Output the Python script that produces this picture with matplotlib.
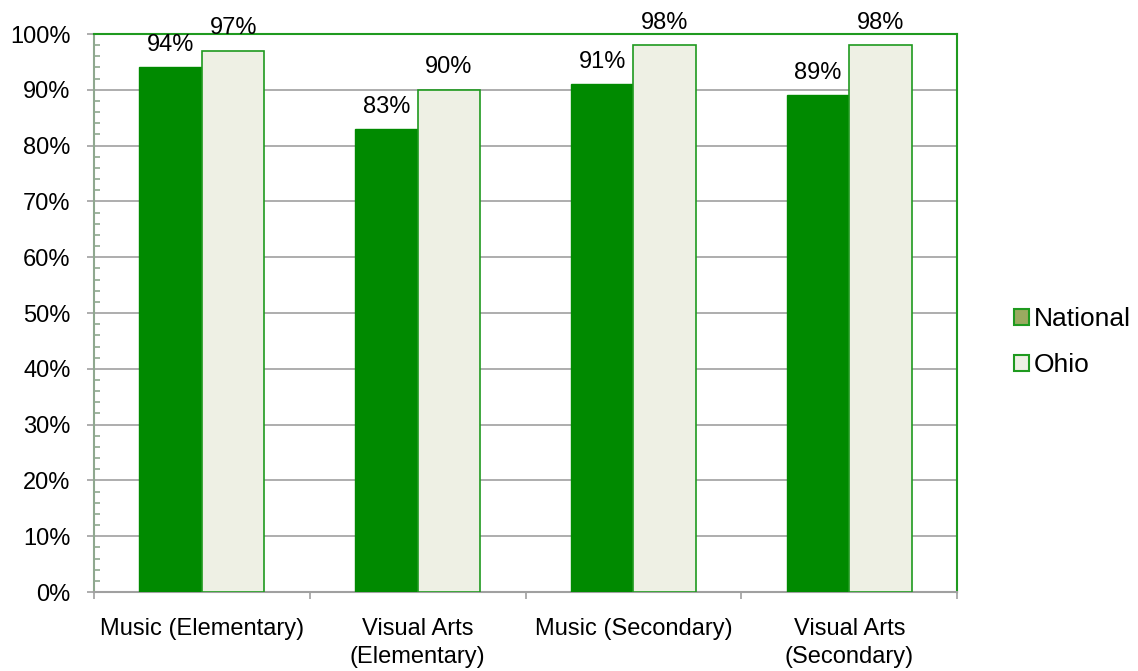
import numpy as np
import matplotlib.pyplot as plt
from matplotlib.patches import Patch
from matplotlib.ticker import MultipleLocator, PercentFormatter

plt.rcParams['font.family'] = ['Liberation Sans', 'DejaVu Sans']

categories = ["Music (Elementary)", "Visual Arts\n(Elementary)",
              "Music (Secondary)", "Visual Arts\n(Secondary)"]
national = [94, 83, 91, 89]
ohio = [97, 90, 98, 98]

dark_green = "#008a00"
edge_green = "#1f9a1f"
ohio_fill = "#eef0e4"
grid_grey = "#a0a0a0"
axis_grey = "#8fa88f"

fig = plt.figure(figsize=(11.38, 6.71), dpi=100)
ax = fig.add_axes([0.0826, 0.1177, 0.7585, 0.8316])

x = np.arange(len(categories))
w = 0.29
ax.bar(x - w / 2, national, w, color=dark_green, edgecolor=dark_green, linewidth=1, zorder=3)
ax.bar(x + w / 2, ohio, w, color=ohio_fill, edgecolor=edge_green, linewidth=1.2, zorder=3)

for i in range(len(categories)):
    ax.text(x[i] - w / 2, national[i] + 4.0, f"{national[i]}%", ha="center", va="center", fontsize=17)
    ax.text(x[i] + w / 2, ohio[i] + 4.0, f"{ohio[i]}%", ha="center", va="center", fontsize=17)

ax.set_xlim(-0.5, len(categories) - 0.5)
ax.set_ylim(0, 100)
ax.yaxis.set_major_locator(MultipleLocator(10))
ax.yaxis.set_minor_locator(MultipleLocator(2))
ax.yaxis.set_major_formatter(PercentFormatter(decimals=0))
ax.grid(axis="y", color=grid_grey, linewidth=1.2, zorder=0)

ax.set_xticks(np.arange(-0.5, len(categories) + 0.5, 1), minor=False)
ax.set_xticklabels([])
ax.set_xticks(x, minor=True)
ax.set_xticklabels(categories, minor=True, fontsize=17, linespacing=1.3)
ax.tick_params(axis="x", which="minor", length=0, pad=19)
ax.tick_params(axis="x", which="major", length=5, color=grid_grey, width=1.2)
ax.tick_params(axis="y", which="major", length=5, color=grid_grey, width=1.2, labelsize=17, pad=12)
ax.tick_params(axis="y", which="minor", direction="in", length=4, color=axis_grey, width=1.2)

ax.spines["left"].set_color(axis_grey)
ax.spines["left"].set_linewidth(1.5)
ax.spines["bottom"].set_color(grid_grey)
ax.spines["bottom"].set_linewidth(1.5)
ax.spines["top"].set_color(edge_green)
ax.spines["right"].set_color(edge_green)
ax.spines["top"].set_linewidth(1.5)
ax.spines["right"].set_linewidth(1.5)

handles = [Patch(facecolor="#9aaa60", edgecolor=edge_green, linewidth=1.5),
           Patch(facecolor=ohio_fill, edgecolor=edge_green, linewidth=1.5)]
fig.legend(handles, ["National", "Ohio"], loc="center left", bbox_to_anchor=(0.8705, 0.49),
           frameon=False, fontsize=19, handlelength=0.55, handleheight=0.55,
           handletextpad=0.2, labelspacing=0.85)

fig.savefig("out.png", dpi=100)
